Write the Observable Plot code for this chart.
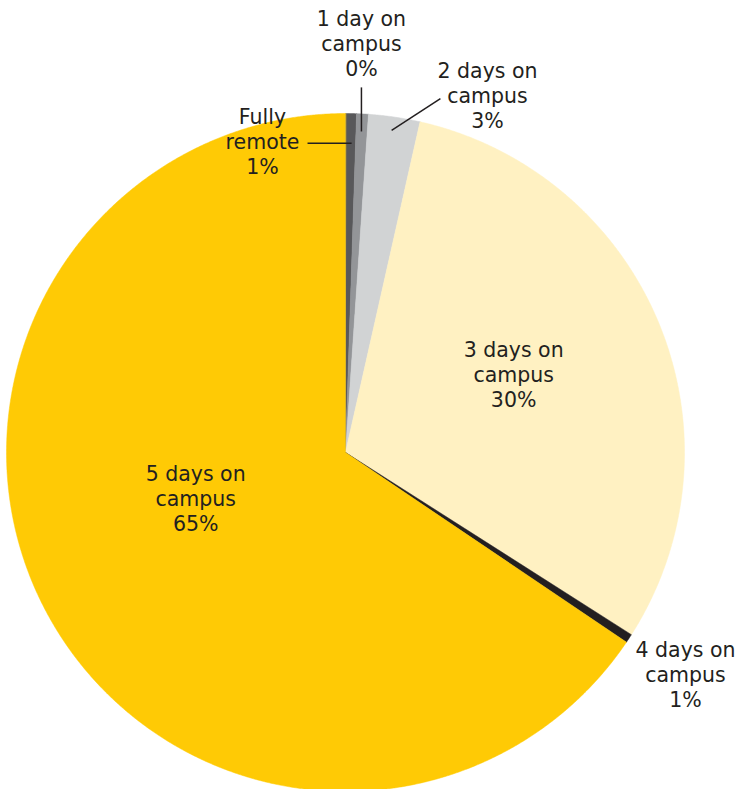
<!DOCTYPE html>
<html><head><meta charset="utf-8">
<script src="https://cdn.jsdelivr.net/npm/d3@7"></script>
<script src="https://cdn.jsdelivr.net/npm/@observablehq/plot@0.6"></script>
<style>body{margin:0;background:#fff}</style>
</head><body><div id="chart"></div>
<script>
// ---- data ----
const categories = ["Fully remote", "1 day on campus", "2 days on campus", "3 days on campus", "4 days on campus", "5 days on campus"];
const values = [0.52, 0.56, 2.45, 30.5, 0.42, 65.55];
const pctLabels = ["1%", "0%", "3%", "30%", "1%", "65%"];
const nameLabels = ["Fully\nremote", "1 day on\ncampus", "2 days on\ncampus", "3 days on\ncampus", "4 days on\ncampus", "5 days on\ncampus"];

// ---- style / layout ----
const colors = ["#58585a", "#939598", "#d1d3d4", "#fff1c2", "#231f20", "#ffca05"];
const labelPos = [[-0.245, 0.914], [0.047, 1.201], [0.419, 1.050], [0.496, 0.227], [1.003, -0.658], [-0.442, -0.139]];
const leaders = [
  [-0.112, 0.912, 0.018, 0.912],
  [0.047, 1.077, 0.047, 0.947],
  [0.280, 1.044, 0.136, 0.950]
];

const arcs = d3.pie().sort(null).value(d => d)(values);
const pts = [];
arcs.forEach((a, i) => {
  const cat = categories[i];
  pts.push({cat, x: 0, y: 0});
  const n = Math.max(2, Math.ceil((a.endAngle - a.startAngle) / 0.004));
  for (let k = 0; k <= n; k++) {
    const t = a.startAngle + (a.endAngle - a.startAngle) * k / n;
    pts.push({cat, x: Math.sin(t), y: Math.cos(t)});
  }
});
const labels = categories.map((c, i) => ({x: labelPos[i][0], y: labelPos[i][1], text: nameLabels[i] + "\n" + pctLabels[i]}));
const links = leaders.map(([x1, y1, x2, y2]) => ({x1, y1, x2, y2}));

const chart = Plot.plot({
  width: 739,
  height: 789,
  margin: 0,
  style: {fontFamily: "'DejaVu Sans', sans-serif", overflow: "visible", background: "#fff"},
  x: {domain: [-1, 1], range: [6, 684], axis: null},
  y: {domain: [-1, 1], range: [791, 113], axis: null},
  color: {domain: categories, range: colors},
  marks: [
    Plot.line(pts, {x: "x", y: "y", z: "cat", fill: "cat", stroke: "cat", strokeWidth: 0.5, curve: "linear-closed"}),
    Plot.link(links, {x1: "x1", y1: "y1", x2: "x2", y2: "y2", stroke: "#231f20", strokeWidth: 1.5}),
    Plot.text(labels, {x: "x", y: "y", text: "text", fontSize: 20.5, lineHeight: 1.22, fill: "#231f20", textAnchor: "middle", dy: -2})
  ]
});
document.getElementById("chart").appendChild(chart);
</script>
</body></html>
